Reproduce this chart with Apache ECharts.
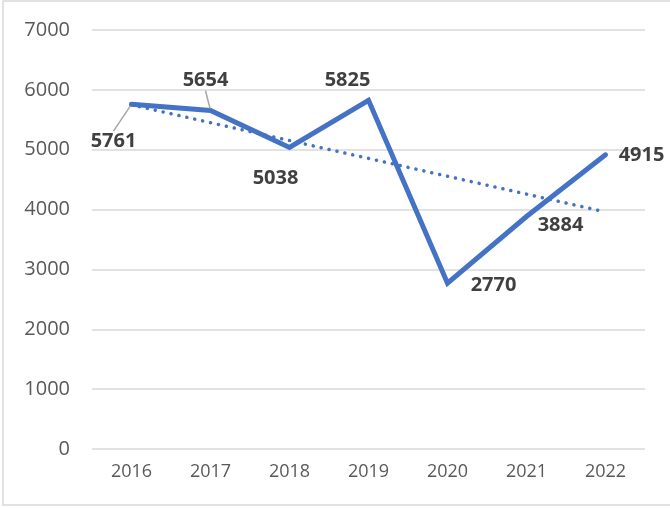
<!DOCTYPE html>
<html>
<head>
<meta charset="utf-8">
<script src="https://cdn.jsdelivr.net/npm/echarts@6/dist/echarts.min.js"></script>
<style>
  html, body { margin: 0; padding: 0; background: #fff; }
  #chart { width: 670px; height: 508px; }
</style>
</head>
<body>
<div id="chart"></div>
<script>
var years = ['2016', '2017', '2018', '2019', '2020', '2021', '2022'];
var values = [5761, 5654, 5038, 5825, 2770, 3884, 4915];
// dotted trend line at its two ends
var trend = [5750, null, null, null, null, null, 3960];
var yTicks = [0, 1000, 2000, 3000, 4000, 5000, 6000, 7000];

// label shift from the point, in px
var labelShift = [[-18, 37], [-5, -30], [-14, 31], [-21, -20], [46, 2], [34, 9], [36, 0]];
var withLeader = [true, true, false, false, false, false, false];

var chart = echarts.init(document.getElementById('chart'));

var mainData = values.map(function (v, i) {
    var item = { value: v };
    if (withLeader[i]) {
        item.labelLine = { show: true };
    }
    return item;
});

var option = {
    animation: false,
    graphic: [{
        type: 'rect',
        shape: { x: 3, y: 1, width: 700, height: 504 },
        style: { fill: 'none', stroke: '#d9d9d9', lineWidth: 1.5 },
        silent: true
    }],
    grid: { left: 92, right: 25, top: 30, bottom: 59 },
    xAxis: {
        type: 'category',
        data: years,
        boundaryGap: true,
        axisLine: { show: false },
        axisTick: { show: false },
        axisLabel: { color: '#595959', fontSize: 18, fontFamily: 'Open Sans', margin: 14 }
    },
    yAxis: {
        type: 'value',
        min: yTicks[0],
        max: yTicks[yTicks.length - 1],
        interval: 1000,
        axisLine: { show: false },
        axisTick: { show: false },
        axisLabel: {
            color: '#595959', fontSize: 20, fontFamily: 'Open Sans', margin: 22,
            formatter: function (v) { return String(v); }
        },
        splitLine: { lineStyle: { color: '#d9d9d9', width: 1.5 } }
    },
    series: [{
        type: 'line',
        data: mainData,
        symbol: 'circle',
        symbolSize: 4,
        showSymbol: true,
        itemStyle: { color: '#4472c4' },
        lineStyle: { color: '#4472c4', width: 5, cap: 'round', join: 'miter' },
        label: {
            show: true,
            position: 'inside',
            color: '#404040',
            fontSize: 20,
            fontWeight: 'bold',
            fontFamily: 'Open Sans'
        },
        labelLine: {
            show: false,
            lineStyle: { color: '#a6a6a6', width: 1.5 }
        },
        labelLayout: function (p) {
            var s = labelShift[p.dataIndex];
            return { dx: s[0], dy: s[1] };
        },
        z: 2
    }, {
        type: 'line',
        data: trend,
        connectNulls: true,
        showSymbol: false,
        symbol: 'none',
        lineStyle: { color: '#4472c4', width: 3.5, type: [0.1, 8], cap: 'round' },
        z: 3
    }]
};

chart.setOption(option);
</script>
</body>
</html>
